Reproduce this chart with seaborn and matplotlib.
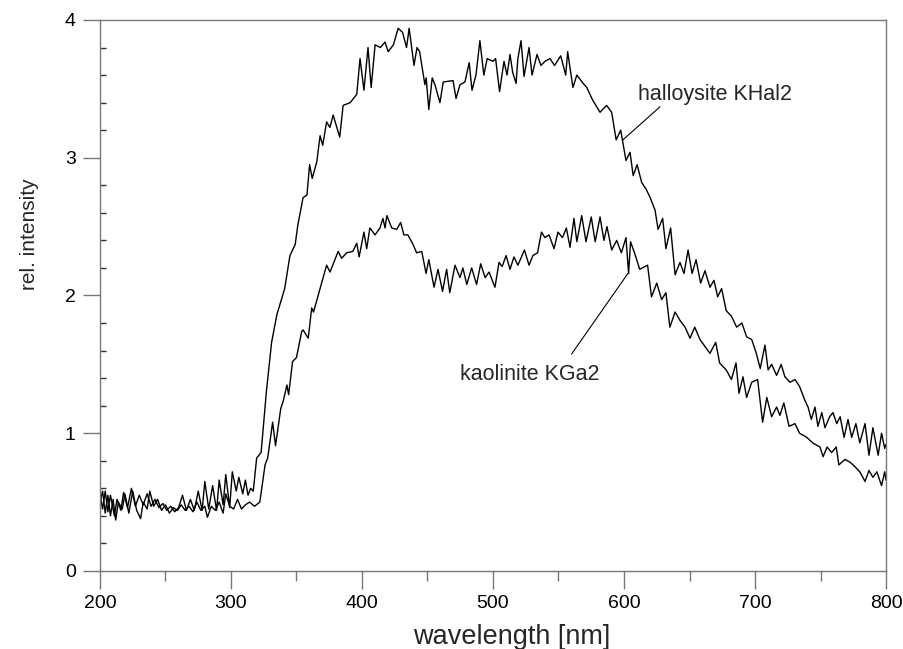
"""
Emission spectra of halloysite KHal2 and kaolinite KGa2 (relative intensity vs wavelength).
"""

import matplotlib

matplotlib.use("Agg")
import matplotlib.pyplot as plt
import pandas as pd
import seaborn as sns
from matplotlib.ticker import MultipleLocator

# (wavelength nm, rel. intensity)
HALLOYSITE = [
    (200, 0.56), (202, 0.45), (204, 0.58), (206, 0.43), (208, 0.55), (211, 0.40),
    (213, 0.52), (216, 0.44), (218, 0.57), (221, 0.46), (224, 0.60), (227, 0.47),
    (230, 0.55), (233, 0.48), (236, 0.56), (239, 0.47), (242, 0.52), (245, 0.46),
    (248, 0.49), (251, 0.44), (254, 0.47), (257, 0.43), (260, 0.46), (263, 0.55),
    (266, 0.44), (269, 0.52), (272, 0.44), (275, 0.58), (278, 0.44), (280, 0.65),
    (283, 0.45), (286, 0.62), (289, 0.44), (291, 0.66), (294, 0.48), (296, 0.70),
    (299, 0.46), (301, 0.72), (304, 0.58), (306, 0.68), (309, 0.56), (311, 0.66),
    (313, 0.55), (315, 0.60), (317, 0.58), (319.6, 0.82), (323, 0.86), (327, 1.30),
    (331, 1.66), (335, 1.86), (341, 2.05), (345, 2.29), (349, 2.37), (351, 2.51),
    (355, 2.71), (358, 2.73), (360, 2.95), (362, 2.85), (365.5, 2.97), (368, 3.16),
    (370, 3.09), (373, 3.26), (375.5, 3.22), (378, 3.31), (383, 3.15), (385.6, 3.38),
    (391, 3.40), (396, 3.46), (398.5, 3.72), (401.5, 3.49), (404.6, 3.80), (407, 3.51),
    (410, 3.82), (414, 3.80), (417.6, 3.84), (420, 3.77), (424, 3.82), (427.6, 3.94),
    (431, 3.91), (434, 3.80), (436, 3.94), (439.7, 3.67), (442, 3.80), (444, 3.77),
    (448, 3.53), (449, 3.58), (451, 3.35), (453.6, 3.58), (455.7, 3.53), (459.5, 3.40),
    (462, 3.55), (469.5, 3.56), (471.8, 3.43), (474.8, 3.53), (478.6, 3.55), (481.8, 3.69),
    (484, 3.49), (487, 3.60), (490, 3.85), (493, 3.60), (495.6, 3.72), (500, 3.70),
    (502, 3.72), (505, 3.48), (508.4, 3.70), (510.7, 3.60), (513, 3.75), (515, 3.62),
    (517.6, 3.54), (519, 3.72), (521.4, 3.85), (523.7, 3.59), (527.5, 3.80), (529.8, 3.60),
    (533.6, 3.75), (536.6, 3.67), (539.7, 3.70), (543.5, 3.72), (547, 3.67), (551.7, 3.74),
    (555.5, 3.60), (557, 3.77), (561, 3.51), (564, 3.60), (568.8, 3.54), (571.6, 3.51),
    (576, 3.42), (581.7, 3.33), (586.7, 3.38), (590.6, 3.33), (594, 3.13), (597.5, 3.20),
    (601.5, 2.98), (604.6, 3.04), (607, 2.87), (610, 2.95), (613.5, 2.82), (617, 2.77),
    (620, 2.71), (623.7, 2.62), (626, 2.48), (629.5, 2.56), (632, 2.34), (635.6, 2.49),
    (639, 2.15), (642.7, 2.24), (645.8, 2.16), (648.9, 2.33), (652, 2.16), (655, 2.26),
    (658.5, 2.09), (661.8, 2.18), (665.6, 2.06), (668.7, 2.11), (671.5, 1.99), (674.5, 2.05),
    (678, 1.89), (682, 1.85), (686, 1.77), (690, 1.80), (693.6, 1.70), (697.5, 1.68),
    (701, 1.58), (704, 1.47), (707.6, 1.64), (710, 1.46), (712.7, 1.50), (716.5, 1.42),
    (720, 1.50), (722.8, 1.41), (726.7, 1.37), (730.5, 1.39), (734, 1.34), (738, 1.24),
    (740.5, 1.19), (743, 1.10), (745.8, 1.19), (748, 1.05), (751, 1.15), (753.4, 1.04),
    (757, 1.12), (759.5, 1.15), (762.4, 1.07), (765, 1.12), (768, 0.97), (771, 1.10),
    (773.8, 0.97), (777, 1.07), (780, 0.93), (784, 1.07), (787, 0.84), (790, 1.04),
    (794, 0.84), (796.6, 1.00), (799, 0.89), (800, 0.92),
]

KAOLINITE = [
    (200, 0.50), (202, 0.58), (204, 0.42), (206, 0.55), (208, 0.40), (210, 0.52),
    (212, 0.37), (214, 0.50), (217, 0.45), (219, 0.56), (222, 0.42), (225, 0.58),
    (228, 0.44), (231, 0.38), (233, 0.50), (236, 0.45), (238, 0.58), (241, 0.47),
    (244, 0.52), (247, 0.44), (250, 0.48), (253, 0.42), (256, 0.46), (259, 0.44),
    (262, 0.48), (265, 0.44), (268, 0.47), (271, 0.43), (274, 0.50), (277, 0.44),
    (280, 0.47), (282, 0.39), (285, 0.47), (288, 0.44), (291, 0.50), (294, 0.42),
    (296, 0.56), (299, 0.47), (302, 0.45), (305, 0.52), (308, 0.45), (311, 0.48),
    (314, 0.50), (318, 0.47), (322, 0.50), (326, 0.77), (328, 0.82), (331.8, 1.08),
    (334, 0.91), (338, 1.18), (339.8, 1.23), (342.7, 1.35), (344, 1.28), (347, 1.52),
    (350, 1.55), (354, 1.74), (355, 1.75), (359, 1.69), (361.6, 1.91), (363, 1.88),
    (368, 2.05), (373, 2.22), (375.6, 2.17), (381.8, 2.32), (384.5, 2.27), (388.3, 2.31),
    (393, 2.32), (396, 2.38), (397.8, 2.28), (401.5, 2.46), (403.6, 2.34), (406, 2.49),
    (410, 2.44), (413.7, 2.49), (416, 2.56), (417.6, 2.49), (419, 2.58), (422.7, 2.49),
    (426.5, 2.48), (429.5, 2.53), (432, 2.44), (435, 2.44), (439, 2.37), (441.7, 2.31),
    (445.6, 2.32), (448.9, 2.16), (451, 2.26), (455, 2.06), (458, 2.19), (461.5, 2.03),
    (464.6, 2.19), (467, 2.02), (471, 2.22), (474.8, 2.13), (477, 2.20), (480, 2.08),
    (483.7, 2.20), (487.5, 2.08), (490.6, 2.23), (494, 2.13), (497, 2.17), (501.5, 2.06),
    (504.6, 2.24), (507, 2.21), (510, 2.29), (513, 2.19), (516, 2.28), (519, 2.22),
    (524, 2.33), (527.5, 2.22), (530.5, 2.29), (534, 2.31), (537, 2.46), (539.7, 2.42),
    (542.8, 2.44), (546.6, 2.34), (549.6, 2.46), (553, 2.42), (556, 2.49), (558.8, 2.35),
    (561.8, 2.56), (564, 2.39), (567.7, 2.58), (571, 2.39), (575, 2.57), (578, 2.39),
    (581.7, 2.57), (584.7, 2.40), (587, 2.50), (590.6, 2.33), (594.4, 2.40), (598, 2.31),
    (601.5, 2.42), (603.5, 2.16), (605, 2.39), (608, 2.31), (612, 2.19), (618, 2.22),
    (621, 1.99), (625, 2.09), (628.7, 1.97), (632, 2.02), (635, 1.77), (639, 1.88),
    (642.7, 1.82), (646.6, 1.77), (650.4, 1.69), (654, 1.77), (658, 1.68), (661.8, 1.63),
    (665.6, 1.58), (670, 1.66), (673, 1.51), (678, 1.46), (682, 1.39), (685.5, 1.51),
    (687.8, 1.29), (690.8, 1.41), (693.6, 1.26), (697.5, 1.37), (702, 1.39), (705.8, 1.08),
    (709, 1.26), (712.7, 1.12), (716.5, 1.19), (719, 1.13), (722, 1.22), (726, 1.05),
    (730.5, 1.07), (734, 1.00), (739.5, 0.97), (744, 0.93), (749.6, 0.90), (752, 0.83),
    (755, 0.90), (758.5, 0.86), (762, 0.90), (764, 0.77), (768.7, 0.81), (772.5, 0.79),
    (776, 0.76), (780, 0.72), (784, 0.65), (787, 0.73), (790, 0.68), (793, 0.72),
    (796.6, 0.62), (799, 0.72), (800, 0.66),
]

X_TICKS = [200, 300, 400, 500, 600, 700, 800]
Y_TICKS = [0, 1, 2, 3, 4]

# label text, text anchor (wl, val), leader line start, leader line end
LABELS = [
    ("halloysite KHal2", (610.5, 3.42), (627.5, 3.37), (599.2, 3.13)),
    ("kaolinite KGa2", (474.8, 1.39), (560.0, 1.575), (603.0, 2.16)),
]


def build_frame():
    rows = []
    for name, pts in [("halloysite", HALLOYSITE), ("kaolinite", KAOLINITE)]:
        for wl, val in pts:
            rows.append({"sample": name, "wavelength": wl, "intensity": val})
    return pd.DataFrame(rows)


def plot(df):
    sns.set_style("ticks")
    plt.rcParams["font.family"] = ["Liberation Sans", "DejaVu Sans"]

    fig = plt.figure(figsize=(9.04, 6.49), dpi=100)
    ax = fig.add_axes([0.1106, 0.1202, 0.8695, 0.849])

    for name, sub in df.groupby("sample"):
        sns.lineplot(
            data=sub, x="wavelength", y="intensity", ax=ax,
            color="black", lw=1.0, estimator=None, sort=False,
        )

    ax.set_xlim(200, 800)
    ax.set_ylim(0, 4)
    ax.set_xticks(X_TICKS)
    ax.set_yticks(Y_TICKS)
    ax.xaxis.set_minor_locator(MultipleLocator(50))
    ax.yaxis.set_minor_locator(MultipleLocator(0.2))

    for sp in ax.spines.values():
        sp.set_color("#777777")
        sp.set_linewidth(1.0)

    ax.tick_params(axis="both", which="major", labelsize=14, colors="#777777",
                   labelcolor="black", width=1.0)
    ax.tick_params(axis="x", which="major", direction="out", length=13, pad=4)
    ax.tick_params(axis="x", which="minor", direction="out", length=7.5,
                   width=1.0, color="#777777")
    ax.tick_params(axis="y", which="major", direction="out", length=12.5, pad=5)
    ax.tick_params(axis="y", which="minor", direction="in", length=4.5,
                   width=1.0, color="#333333")

    ax.set_xlabel("wavelength [nm]", fontsize=19.5)
    ax.set_ylabel("rel. intensity", fontsize=15)
    ax.xaxis.set_label_coords(0.524, -0.097)
    ax.yaxis.set_label_coords(-0.078, 0.612)

    for text, pos, start, end in LABELS:
        ax.text(pos[0], pos[1], text, fontsize=15.5, ha="left", va="baseline")
        ax.annotate("", xy=end, xytext=start,
                    arrowprops=dict(arrowstyle="-", lw=0.8, color="black",
                                    shrinkA=0, shrinkB=0))

    fig.savefig("out.png", dpi=100)


if __name__ == "__main__":
    plot(build_frame())
